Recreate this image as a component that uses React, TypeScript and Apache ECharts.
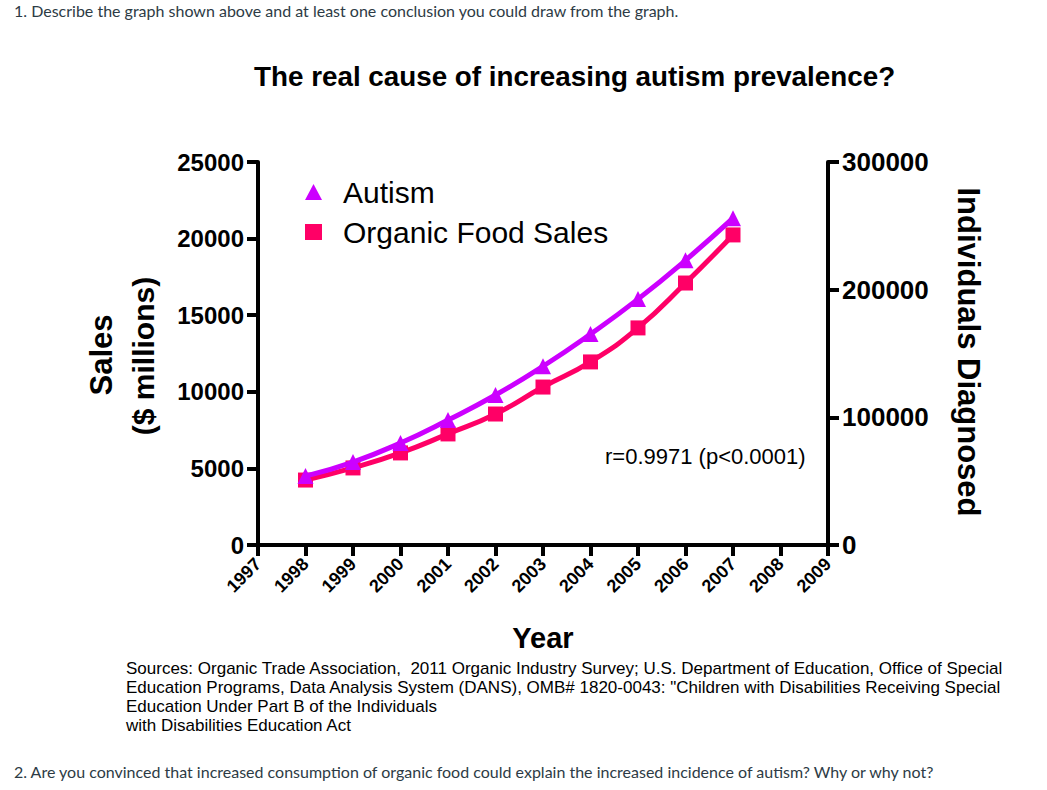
import React, { useEffect, useRef } from "react";
import * as echarts from "echarts";

const years = [1998, 1999, 2000, 2001, 2002, 2003, 2004, 2005, 2006, 2007];
const organicSales = [4240, 5030, 6010, 7250, 8550, 10310, 11950, 14170, 17100, 20240];
const autismCases = [54000, 65000, 79900, 97900, 117500, 140000, 165200, 192600, 223000, 256000];
const xTicks = { min: 1997, max: 2009, interval: 1 };
const leftTicks = { min: 0, max: 25000, interval: 5000 };
const rightTicks = { min: 0, max: 300000, interval: 100000 };

const titleText = "The real cause of increasing autism prevalence?";
const corrText = "r=0.9971 (p<0.0001)";
const sourceLines = [
  "Sources: Organic Trade Association,  2011 Organic Industry Survey; U.S. Department of Education, Office of Special",
  "Education Programs, Data Analysis System (DANS), OMB# 1820-0043: \"Children with Disabilities Receiving Special",
  "Education Under Part B of the Individuals",
  "with Disabilities Education Act",
];
const question1 = "1. Describe the graph shown above and at least one conclusion you could draw from the graph.";
const question2 = "2. Are you convinced that increased consumption of organic food could explain the increased incidence of autism? Why or why not?";

const PURPLE = "#CC00FF";
const PINK = "#FF0066";
const ARIAL = "Arial, 'Liberation Sans', sans-serif";

export default function App() {
  const ref = useRef<HTMLDivElement>(null);
  useEffect(() => {
    if (!ref.current) return;
    const chart = echarts.init(ref.current, null, { renderer: "svg" });
    const axisLine = { show: true, lineStyle: { color: "#000", width: 4 } };
    const axisTick = { show: true, length: 11, lineStyle: { color: "#000", width: 4 } };
    chart.setOption({
      animation: false,
      backgroundColor: "#fff",
      title: {
        text: titleText,
        left: 249,
        top: 57,
        textStyle: { fontFamily: ARIAL, fontSize: 27.8, fontWeight: "bold", color: "#000" },
      },
      legend: {
        orient: "vertical",
        left: 300,
        top: 172,
        itemGap: 10,
        itemWidth: 17,
        itemHeight: 16,
        data: [
          { name: "Autism", icon: "triangle" },
          { name: "Organic Food Sales", icon: "rect" },
        ],
        textStyle: { fontFamily: ARIAL, fontSize: 30, color: "#000", padding: [0, 0, 0, 16] },
      },
      grid: { left: 258, right: 219, top: 162, bottom: 245, containLabel: false },
      xAxis: {
        type: "value",
        ...xTicks,
        name: "Year",
        nameLocation: "middle",
        nameGap: 78,
        nameTextStyle: { fontFamily: ARIAL, fontSize: 29, fontWeight: "bold", color: "#000" },
        axisLine,
        axisTick,
        splitLine: { show: false },
        axisLabel: {
          rotate: 45,
          margin: 16,
          formatter: (v: number) => String(v),
          fontFamily: ARIAL,
          fontSize: 18,
          fontWeight: "bold",
          color: "#000",
        },
      },
      yAxis: [
        {
          type: "value",
          ...leftTicks,
          position: "left",
          axisLine,
          axisTick,
          splitLine: { show: false },
          axisLabel: {
            margin: 14,
            formatter: (v: number) => String(v),
            fontFamily: ARIAL,
            fontSize: 24,
            fontWeight: "bold",
            color: "#000",
          },
        },
        {
          type: "value",
          ...rightTicks,
          position: "right",
          axisLine,
          axisTick,
          splitLine: { show: false },
          axisLabel: {
            margin: 14,
            formatter: (v: number) => String(v),
            fontFamily: ARIAL,
            fontSize: 26,
            fontWeight: "bold",
            color: "#000",
          },
        },
      ],
      series: [
        {
          name: "Autism",
          type: "line",
          yAxisIndex: 1,
          smooth: true,
          data: years.map((y, i) => [y, autismCases[i]]),
          symbol: "triangle",
          symbolSize: 16,
          itemStyle: { color: PURPLE },
          lineStyle: { color: PURPLE, width: 5 },
          z: 3,
        },
        {
          name: "Organic Food Sales",
          type: "line",
          yAxisIndex: 0,
          smooth: true,
          data: years.map((y, i) => [y, organicSales[i]]),
          symbol: "rect",
          symbolSize: 15,
          itemStyle: { color: PINK },
          lineStyle: { color: PINK, width: 5 },
          z: 2,
        },
      ],
      graphic: [
        {
          type: "text",
          x: 14,
          y: 2,
          style: { text: question1, fontFamily: "Lato", fontSize: 16, fill: "#2D3B45" },
        },
        {
          type: "text",
          x: 14,
          y: 763,
          style: { text: question2, fontFamily: "Lato", fontSize: 16, fill: "#2D3B45" },
        },
        {
          type: "text",
          x: 101,
          y: 355,
          rotation: Math.PI / 2,
          style: {
            text: "Sales",
            fontFamily: ARIAL,
            fontSize: 31,
            fontWeight: "bold",
            fill: "#000",
            align: "center",
            verticalAlign: "middle",
          },
        },
        {
          type: "text",
          x: 143,
          y: 356,
          rotation: Math.PI / 2,
          style: {
            text: "($ millions)",
            fontFamily: ARIAL,
            fontSize: 30,
            fontWeight: "bold",
            fill: "#000",
            align: "center",
            verticalAlign: "middle",
          },
        },
        {
          type: "text",
          x: 968,
          y: 352,
          rotation: -Math.PI / 2,
          style: {
            text: "Individuals Diagnosed",
            fontFamily: ARIAL,
            fontSize: 31,
            fontWeight: "bold",
            fill: "#000",
            align: "center",
            verticalAlign: "middle",
          },
        },
        {
          type: "text",
          x: 605,
          y: 456,
          style: {
            text: corrText,
            fontFamily: ARIAL,
            fontSize: 22,
            fill: "#000",
            verticalAlign: "middle",
          },
        },
        {
          type: "text",
          x: 126,
          y: 659,
          style: {
            text: sourceLines.join("\n"),
            fontFamily: ARIAL,
            fontSize: 17,
            lineHeight: 19,
            fill: "#000",
          },
        },
      ],
    });
    return () => chart.dispose();
  }, []);
  return (
    <div
      ref={ref}
      style={{ position: "fixed", left: 0, top: 0, width: 1047, height: 790 }}
    />
  );
}
